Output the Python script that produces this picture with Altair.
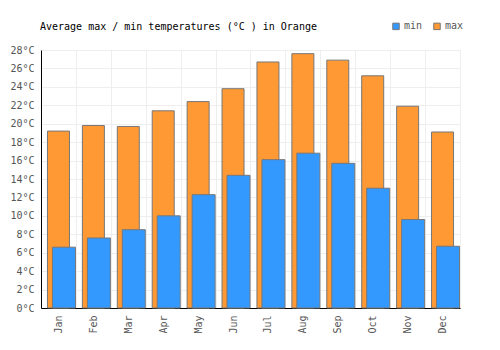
import altair as alt
import pandas as pd

months = ["Jan", "Feb", "Mar", "Apr", "May", "Jun", "Jul", "Aug", "Sep", "Oct", "Nov", "Dec"]
max_temps = [19.2, 19.8, 19.7, 21.4, 22.4, 23.8, 26.7, 27.6, 26.9, 25.2, 21.9, 19.1]
min_temps = [6.6, 7.6, 8.5, 10.0, 12.3, 14.4, 16.1, 16.8, 15.7, 13.0, 9.6, 6.7]
y_ticks = list(range(0, 29, 2))

rows = []
for m, mx, mn in zip(months, max_temps, min_temps):
    rows.append({"month": m, "series": "max", "value": mx})
    rows.append({"month": m, "series": "min", "value": mn})
df = pd.DataFrame(rows)

FONT = "DejaVu Sans Mono"

x_enc = alt.X(
    "month:N",
    sort=months,
    scale=alt.Scale(paddingInner=0, paddingOuter=0),
    axis=alt.Axis(
        title=None,
        labelAngle=-90,
        ticks=False,
        tickBand="extent",
        grid=True,
        gridColor="#eeeeee",
        domainColor="#000000",
        labelColor="#555555",
        labelFont=FONT,
        labelFontSize=10,
        labelPadding=7,
    ),
)
y_enc = alt.Y(
    "value:Q",
    scale=alt.Scale(domain=[0, 28], nice=False),
    axis=alt.Axis(
        title=None,
        values=y_ticks,
        labelExpr="datum.value + '°C'",
        ticks=False,
        grid=True,
        gridColor="#eeeeee",
        domainColor="#000000",
        labelColor="#555555",
        labelFont=FONT,
        labelFontSize=10,
        labelPadding=7,
    ),
)
color_enc = alt.Color(
    "series:N",
    scale=alt.Scale(domain=["min", "max"], range=["#3399ff", "#ff9933"]),
    legend=alt.Legend(
        title=None,
        orient="none",
        legendX=350,
        legendY=-29,
        direction="horizontal",
        symbolType="square",
        symbolSize=42,
        symbolStrokeColor="#777777",
        symbolStrokeWidth=1,
        labelFont=FONT,
        labelFontSize=10,
        labelColor="#555555",
        labelOffset=3,
        columnPadding=8,
    ),
)

base = alt.Chart(df)
max_bars = base.transform_filter("datum.series == 'max'").mark_bar(
    width=22, xOffset=0, stroke="#777777", strokeWidth=1
).encode(x=x_enc, y=y_enc, color=color_enc)
min_bars = base.transform_filter("datum.series == 'min'").mark_bar(
    width=23, xOffset=5.5, stroke="#777777", strokeWidth=1
).encode(x=x_enc, y=y_enc, color=color_enc)

chart = alt.layer(max_bars, min_bars).properties(
    width=419,
    height=258,
    autosize=alt.AutoSizeParams(type="none"),
    padding={"left": 41, "top": 50, "right": 40, "bottom": 42},
    title=alt.TitleParams(
        "Average max / min temperatures (°C ) in Orange",
        anchor="start",
        frame="group",
        font=FONT,
        fontSize=10,
        fontWeight="normal",
        color="#000000",
        offset=0,
        dy=11,
        dx=-1,
    ),
).configure_view(stroke=None).configure(background="white")

chart.save("out.html", embed_options={"renderer": "svg", "actions": False})
